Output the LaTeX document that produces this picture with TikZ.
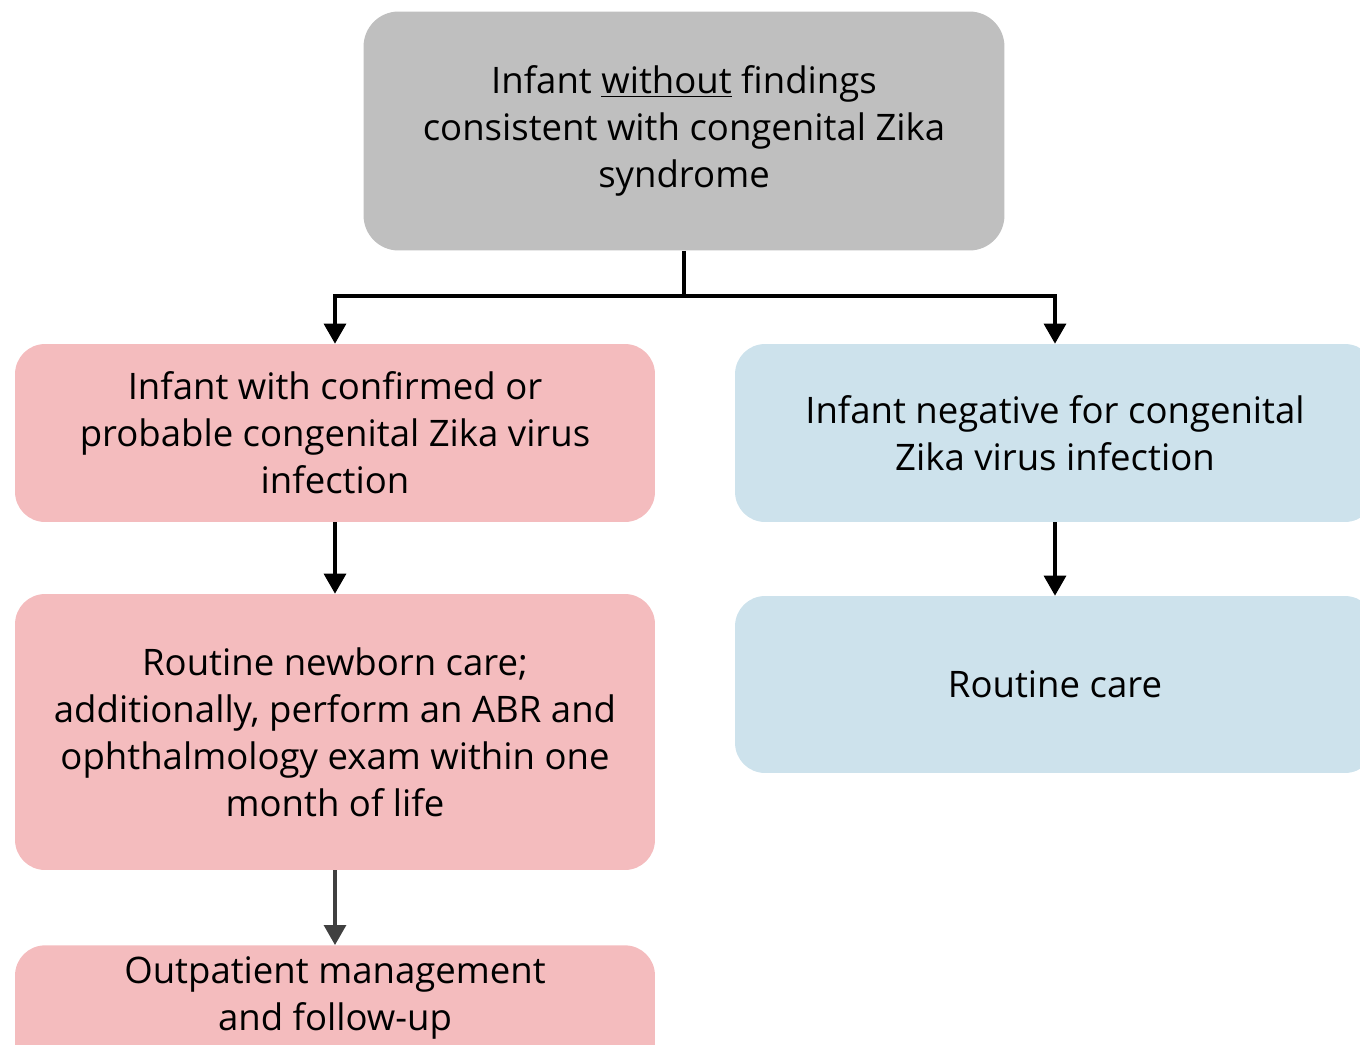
\documentclass[tikz,border=0pt]{standalone}
\usepackage{fontspec}
\setmainfont{Open Sans}
\usetikzlibrary{arrows.meta}
\definecolor{boxgray}{HTML}{BFBFBF}
\definecolor{boxpink}{HTML}{F4BCBE}
\definecolor{boxblue}{HTML}{CDE2EC}
\definecolor{arrowgray}{HTML}{404040}

\begin{document}
\begin{tikzpicture}[x=0.02cm, y=-0.02cm,
    box/.style={rounded corners=0.6cm, minimum width=12.8cm, align=center, inner sep=0pt,
        font=\fontsize{20.8}{26.7}\selectfont},
    flow/.style={line width=1.8pt, -{Triangle[width=0.44cm,length=0.4cm]}}]
    \useasboundingbox (0,0) rectangle (1360,1045);

    % Starting point
    \node[box, fill=boxgray, minimum width=12.82cm, minimum height=4.78cm, rounded corners=0.7cm]
        (infant) at (684,131) {Infant \underline{without} findings\\consistent with congenital Zika\\syndrome};

    % Positive branch
    \node[box, fill=boxpink, minimum height=3.56cm] (confirmed) at (335,433)
        {Infant with confirmed or\\probable congenital Zika virus\\infection};
    \node[box, fill=boxpink, minimum height=5.52cm] (newborn) at (335,732)
        {Routine newborn care;\\additionally, perform an ABR and\\ophthalmology exam within one\\month of life};
    \node[box, fill=boxpink, minimum height=3.56cm, anchor=north] (followbox) at (335,945) {};
    \node[box, minimum width=0pt] (followtxt) at (335,998) {Outpatient management\\and follow-up};

    % Negative branch
    \node[box, fill=boxblue, minimum height=3.56cm] (negative) at (1055,433)
        {Infant negative for congenital\\Zika virus infection};
    \node[box, fill=boxblue, minimum height=3.54cm] (routine) at (1055,684.5) {Routine care};

    % Connectors
    \draw[line width=1.8pt] (infant.south) -- (684,296) coordinate (split);
    \draw[flow] (split) -| (confirmed.north);
    \draw[flow] (split) -| (negative.north);
    \draw[flow] (confirmed) -- (newborn);
    \draw[flow] (negative) -- (routine);
    \draw[flow, arrowgray] (newborn) -- (followbox);
\end{tikzpicture}
\end{document}
